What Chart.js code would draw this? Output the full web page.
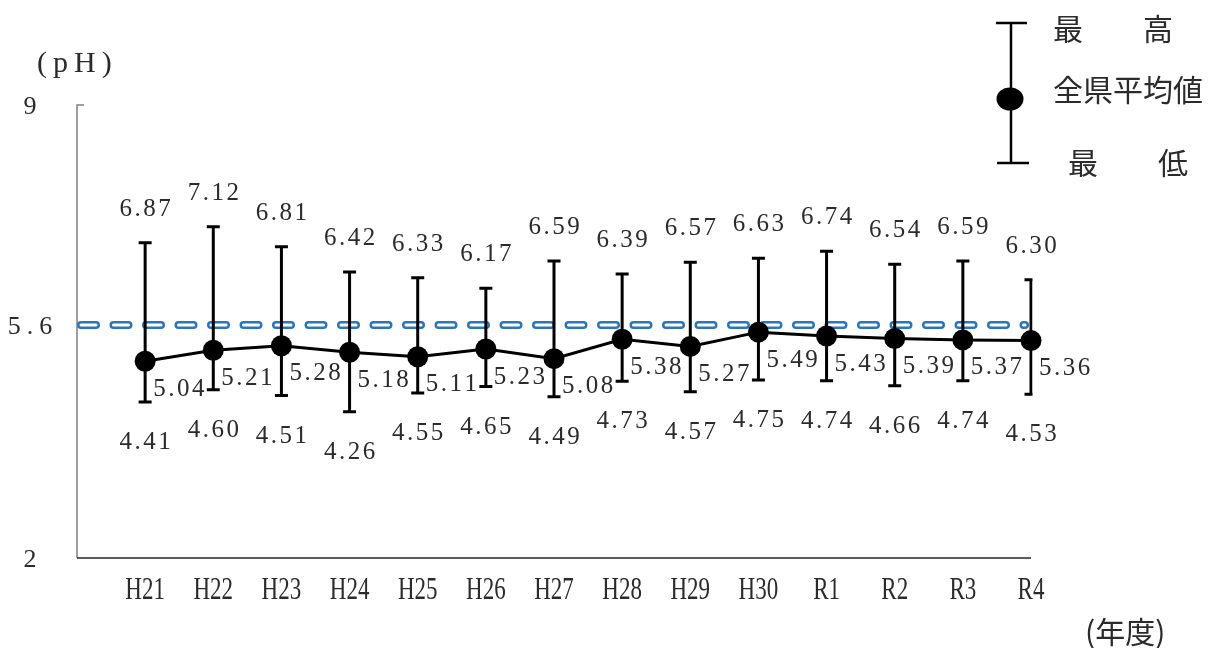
<!DOCTYPE html>
<html lang="ja">
<head>
<meta charset="utf-8">
<title>pH 全県平均値</title>
<script src="https://cdn.jsdelivr.net/npm/chart.js@4/dist/chart.umd.min.js"></script>
<style>
	html, body { margin: 0; padding: 0; background: #fff; }
</style>
</head>
<body>
<canvas id="phChart" width="1208" height="648"></canvas>
<script>
var years = ["H21", "H22", "H23", "H24", "H25", "H26", "H27", "H28", "H29", "H30", "R1", "R2", "R3", "R4"];
var maxValues = [6.87, 7.12, 6.81, 6.42, 6.33, 6.17, 6.59, 6.39, 6.57, 6.63, 6.74, 6.54, 6.59, 6.30];
var avgValues = [5.04, 5.21, 5.28, 5.18, 5.11, 5.23, 5.08, 5.38, 5.27, 5.49, 5.43, 5.39, 5.37, 5.36];
var minValues = [4.41, 4.60, 4.51, 4.26, 4.55, 4.65, 4.49, 4.73, 4.57, 4.75, 4.74, 4.66, 4.74, 4.53];
var yTicks = [2, 5.6, 9];
var refValue = 5.6;

var serif = '"Liberation Serif", "DejaVu Serif", serif';
var cjk = '"Noto Sans CJK JP", sans-serif';
var textColor = "#2b2b2b";

// draw text char by char with extra spacing (wide mincho look)
function spaced(ctx, text, x, y, sp, align) {
	var chars = text.split("");
	var total = 0;
	chars.forEach(function (c) { total += ctx.measureText(c).width; });
	total += sp * (chars.length - 1);
	var cx = x;
	if (align === "center") cx = x - total / 2;
	else if (align === "right") cx = x - total;
	ctx.textAlign = "left";
	chars.forEach(function (c) {
		ctx.fillText(c, cx, y);
		cx += ctx.measureText(c).width + sp;
	});
}

// axes, reference line, whiskers, labels and legend
var extras = {
	id: "extras",
	beforeDatasetsDraw: function (chart) {
		var ctx = chart.ctx, a = chart.chartArea;
		var xs = chart.scales.x, ys = chart.scales.y;
		ctx.save();

		// y axis (grey) with small tick at top
		ctx.strokeStyle = "#808080";
		ctx.lineWidth = 1.5;
		ctx.beginPath();
		ctx.moveTo(a.left, a.bottom);
		ctx.lineTo(a.left, ys.getPixelForValue(9));
		ctx.lineTo(a.left + 7, ys.getPixelForValue(9));
		ctx.stroke();

		// x axis
		ctx.strokeStyle = "#222";
		ctx.beginPath();
		ctx.moveTo(a.left, a.bottom);
		ctx.lineTo(a.right, a.bottom);
		ctx.stroke();

		// dashed reference line (blue outline, white inside)
		var ry = ys.getPixelForValue(refValue);
		ctx.lineCap = "round";
		ctx.setLineDash([15, 17.5]);
		ctx.strokeStyle = "#2e75b6";
		ctx.lineWidth = 8;
		ctx.beginPath();
		ctx.moveTo(a.left + 4, ry);
		ctx.lineTo(a.right - 6, ry);
		ctx.stroke();
		ctx.strokeStyle = "#fff";
		ctx.lineWidth = 3;
		ctx.stroke();
		ctx.setLineDash([]);
		ctx.lineCap = "butt";

		// whiskers, clipped at the plot's right edge
		ctx.beginPath();
		ctx.rect(a.left, 0, a.right - a.left + 1.5, chart.height);
		ctx.clip();
		ctx.strokeStyle = "#000";
		ctx.lineWidth = 3;
		years.forEach(function (_, i) {
			var px = xs.getPixelForValue(i);
			var top = ys.getPixelForValue(maxValues[i]);
			var bot = ys.getPixelForValue(minValues[i]);
			ctx.beginPath();
			ctx.moveTo(px, top);
			ctx.lineTo(px, bot);
			ctx.moveTo(px - 6.5, top);
			ctx.lineTo(px + 6.5, top);
			ctx.moveTo(px - 6.5, bot);
			ctx.lineTo(px + 6.5, bot);
			ctx.stroke();
		});
		ctx.restore();
	},
	afterDatasetsDraw: function (chart) {
		var ctx = chart.ctx, a = chart.chartArea;
		var xs = chart.scales.x, ys = chart.scales.y;
		ctx.save();
		ctx.fillStyle = textColor;

		// value labels
		ctx.font = "25px " + serif;
		years.forEach(function (_, i) {
			var px = xs.getPixelForValue(i);
			ctx.textBaseline = "alphabetic";
			spaced(ctx, maxValues[i].toFixed(2), px, ys.getPixelForValue(maxValues[i]) - 27, 2.5, "center");
			spaced(ctx, minValues[i].toFixed(2), px, ys.getPixelForValue(minValues[i]) + 47, 2.5, "center");
			ctx.textBaseline = "middle";
			spaced(ctx, avgValues[i].toFixed(2), px + 8, ys.getPixelForValue(avgValues[i]) + 28, 2.5, "left");
		});

		// y tick labels
		ctx.textBaseline = "middle";
		ctx.font = "26px " + serif;
		yTicks.forEach(function (t) {
			spaced(ctx, String(t), a.left - 47, ys.getPixelForValue(t) + 2, 6, "center");
		});

		// x tick labels (tall, narrow)
		ctx.font = "23px " + serif;
		ctx.textAlign = "center";
		years.forEach(function (lab, i) {
			ctx.save();
			ctx.translate(xs.getPixelForValue(i), a.bottom + 33);
			ctx.scale(1, 1.4);
			ctx.fillText(lab, 0, 0);
			ctx.restore();
		});

		// axis titles
		ctx.textBaseline = "alphabetic";
		ctx.font = "30px " + serif;
		spaced(ctx, "(pH)", 37, 72, 6, "left");
		ctx.font = "30px " + cjk;
		ctx.textBaseline = "middle";
		ctx.textAlign = "left";
		ctx.fillText("(年度)", 1085, 632);

		// legend
		ctx.fillText("最　　高", 1053, 29);
		ctx.fillText("全県平均値", 1053, 90);
		ctx.fillText("最　　低", 1068, 163);
		ctx.strokeStyle = "#000";
		ctx.lineWidth = 2.5;
		ctx.beginPath();
		ctx.moveTo(1011, 23);
		ctx.lineTo(1011, 163);
		ctx.moveTo(996, 23);
		ctx.lineTo(1027, 23);
		ctx.moveTo(997, 163);
		ctx.lineTo(1029, 163);
		ctx.stroke();
		ctx.fillStyle = "#000";
		ctx.beginPath();
		ctx.ellipse(1010, 99, 13.5, 11.5, 0, 0, Math.PI * 2);
		ctx.fill();

		ctx.restore();
	}
};

var phChart = new Chart(document.getElementById("phChart"), {
	type: "line",
	data: {
		datasets: [
			{
				label: "全県平均値",
				data: avgValues.map(function (v, i) { return { x: i, y: v }; }),
				borderColor: "#000",
				borderWidth: 3,
				backgroundColor: "#000",
				pointRadius: 10.5,
				pointHoverRadius: 10.5,
				pointBackgroundColor: "#000",
				pointBorderWidth: 0,
				tension: 0,
				clip: false
			}
		]
	},
	options: {
		responsive: false,
		animation: false,
		events: [],
		layout: { padding: { left: 77, top: 105, right: 177, bottom: 90 } },
		plugins: {
			legend: { display: false },
			tooltip: { enabled: false }
		},
		scales: {
			x: { type: "linear", min: -1, max: 13, display: false },
			y: { type: "linear", min: 2, max: 9, display: false }
		}
	},
	plugins: [extras]
});
</script>
</body>
</html>
